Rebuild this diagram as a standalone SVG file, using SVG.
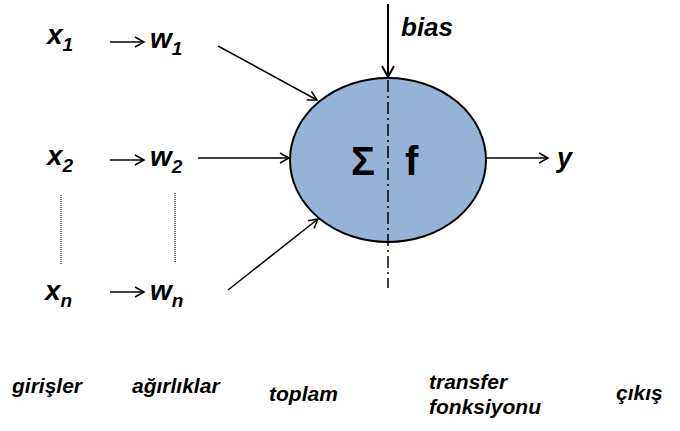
<svg xmlns="http://www.w3.org/2000/svg" width="680" height="431" viewBox="0 0 680 431">
<style>
text{font-family:"Liberation Sans",Arial,sans-serif;font-weight:bold;font-style:italic;fill:#000}
.v{font-size:28px}
.s{font-size:19px}
.lbl{font-size:21px}
.ln{stroke:#000;stroke-width:1.5;fill:none}
</style>
<defs>
<marker id="ah" markerWidth="12" markerHeight="12" refX="10" refY="6" orient="auto" markerUnits="userSpaceOnUse">
<path d="M1,1 L10,6 L1,11" fill="none" stroke="#000" stroke-width="1.5"/>
</marker>
<marker id="ahb" markerWidth="16" markerHeight="16" refX="12" refY="7" orient="auto" markerUnits="userSpaceOnUse">
<path d="M1,1 L12,7 L1,13" fill="none" stroke="#000" stroke-width="2"/>
</marker>
</defs>
<rect width="680" height="431" fill="#fff"/>
<g id="neuron">
<ellipse cx="388" cy="160" rx="98" ry="82" fill="#94b3d7" stroke="#000" stroke-width="2"/>
<line x1="388" y1="80" x2="388" y2="288" stroke="#000" stroke-width="1.5" stroke-dasharray="12,4,2,4"/>
<text x="351" y="175" style="font-style:normal;font-size:40px">Σ</text>
<text x="405" y="175" style="font-style:normal;font-size:40px">f</text>
</g>
<g id="in1"><text x="47" y="44" class="v">x<tspan class="s" dy="7">1</tspan></text></g>
<g id="w1"><text x="150" y="48" class="v">w<tspan class="s" dy="7">1</tspan></text></g>
<g id="in2"><text x="47" y="165" class="v">x<tspan class="s" dy="7">2</tspan></text></g>
<g id="w2"><text x="150" y="166" class="v">w<tspan class="s" dy="7">2</tspan></text></g>
<g id="inn"><text x="45" y="300" class="v">x<tspan class="s" dy="7">n</tspan></text></g>
<g id="wn"><text x="150" y="300" class="v">w<tspan class="s" dy="7">n</tspan></text></g>
<g id="bias"><text x="401" y="36" style="font-size:26px">bias</text></g>
<g id="out"><text x="557" y="167" style="font-size:27px">y</text></g>
<g id="connectors">
<line x1="110" y1="42" x2="144" y2="42" class="ln" marker-end="url(#ah)"/>
<line x1="110" y1="160" x2="144" y2="160" class="ln" marker-end="url(#ah)"/>
<line x1="110" y1="292" x2="144" y2="292" class="ln" marker-end="url(#ah)"/>
<line x1="218" y1="46" x2="317" y2="100" class="ln" marker-end="url(#ah)"/>
<line x1="198" y1="158" x2="289" y2="158" class="ln" marker-end="url(#ah)"/>
<line x1="228" y1="290" x2="318" y2="219" class="ln" marker-end="url(#ah)"/>
<line x1="388" y1="4" x2="388" y2="77" stroke="#000" stroke-width="2" marker-end="url(#ahb)"/>
<line x1="487" y1="158" x2="548" y2="158" class="ln" marker-end="url(#ah)"/>
<line x1="61" y1="195" x2="61" y2="265" stroke="#000" stroke-width="1" stroke-dasharray="1,1"/>
<line x1="175" y1="193" x2="175" y2="262" stroke="#000" stroke-width="1" stroke-dasharray="1,1"/>
</g>
<g id="labels">
<text x="12" y="393" class="lbl">girişler</text>
<text x="132" y="393" class="lbl">ağırlıklar</text>
<text x="269" y="401" class="lbl">toplam</text>
<text x="429" y="389" class="lbl">transfer</text>
<text x="429" y="414" class="lbl">fonksiyonu</text>
<text x="616" y="400" class="lbl">çıkış</text>
</g>
</svg>
